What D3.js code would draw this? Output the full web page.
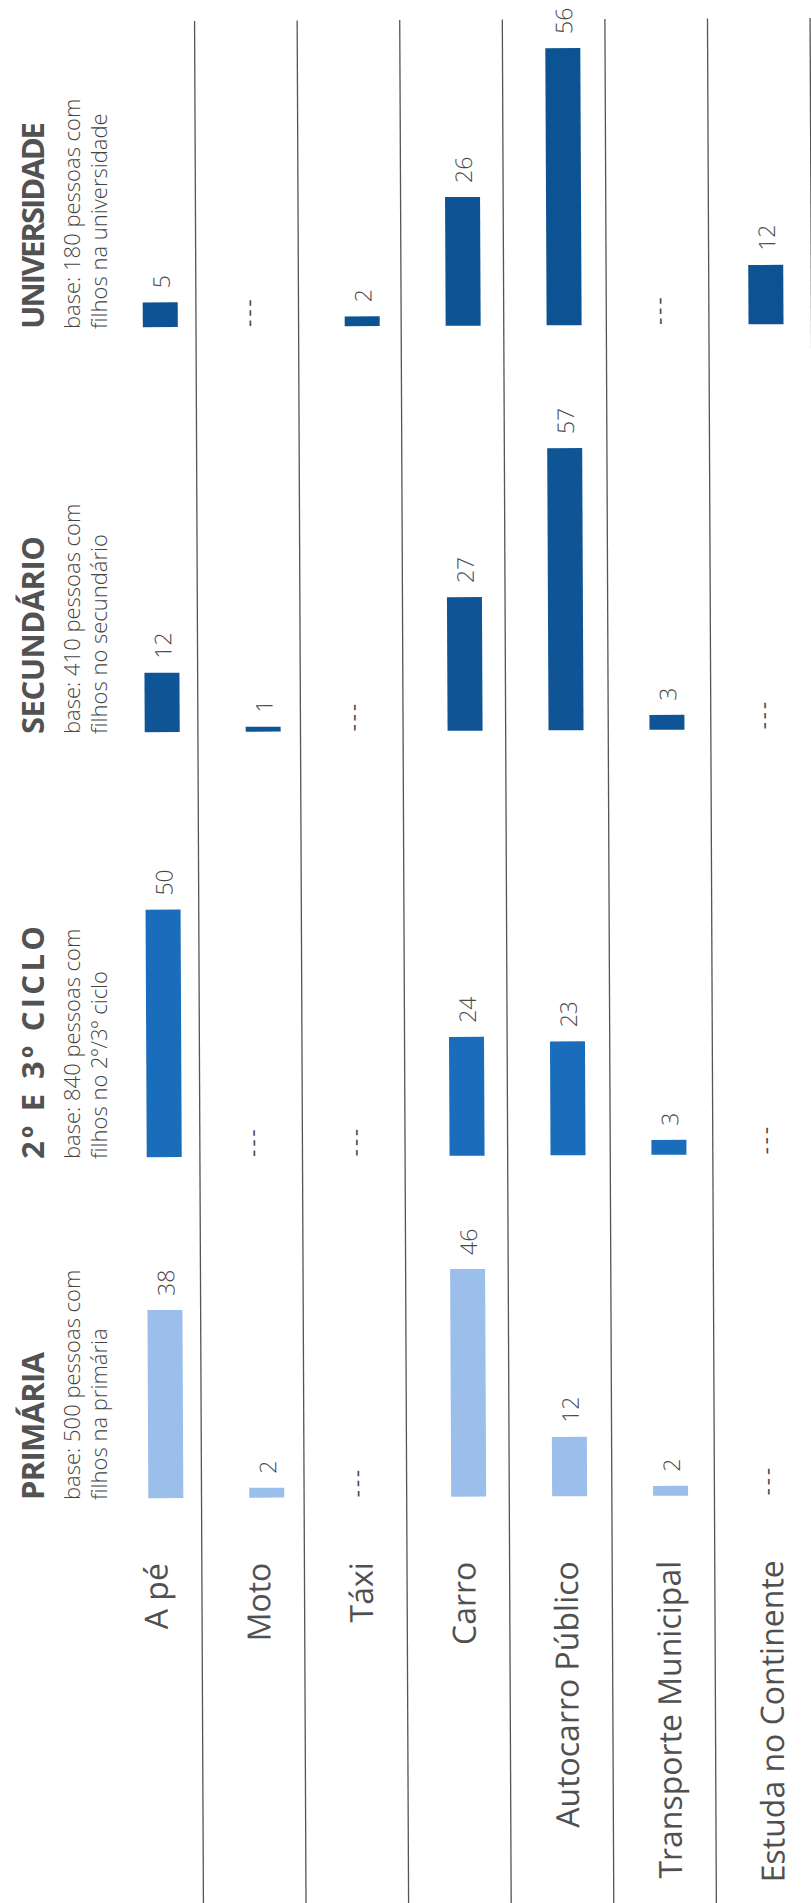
<!DOCTYPE html>
<html><head><meta charset="utf-8">
<script src="https://cdn.jsdelivr.net/npm/d3@7"></script>
<style>body{margin:0;background:#fff}svg{display:block}</style>
</head><body>
<svg id="c" width="811" height="1903"></svg>
<script>
// ---- data ----
const categories = ["A pé","Moto","Táxi","Carro","Autocarro Público","Transporte Municipal","Estuda no Continente"];
const groups = ["PRIMÁRIA","2º E 3º CICLO","SECUNDÁRIO","UNIVERSIDADE"];
const baseLine1 = ["base: 500 pessoas com","base: 840 pessoas com","base: 410 pessoas com","base: 180 pessoas com"];
const baseLine2 = ["filhos na primária","filhos no 2º/3º ciclo","filhos no secundário","filhos na universidade"];
const primaria = [38,2,null,46,12,2,null];
const ciclo = [50,null,null,24,23,3,null];
const secundario = [12,1,null,27,57,3,null];
const universidade = [5,null,2,26,56,null,12];
const series = [primaria, ciclo, secundario, universidade];

// ---- layout ----
const W = 811, H = 1903;
const colors = ["#9bbeea","#1a6dbb","#0f5596","#0d5292"];
const colBase = d3.scaleOrdinal().domain(groups).range([1497,1156,731,326]);
const titleLen = d3.scaleOrdinal().domain(groups).range([148,233,198,207]);
const xBand = d3.scaleBand().domain(categories).range([96.4, 814.5]);
const xBar = d3.scalePoint().domain(categories).range([163.3, 769]);
const hScale = d3.scaleLinear().domain([0,60]).range([0,297]);
const barW = 35;
const FONT = "'Open Sans', 'Noto Sans', sans-serif";
const TXT = "#4a4a4a";

const svg = d3.select("#c");
svg.append("rect").attr("width",W).attr("height",H).attr("fill","#fff");

// headers (not tilted)
const hdr = svg.append("g");
groups.forEach((g,i)=>{
  const y0 = colBase(g) + 3;
  hdr.append("text").attr("transform",`translate(43.5,${y0}) rotate(-90)`)
    .attr("font-family",FONT).attr("font-weight","bold").attr("font-size",31)
    .attr("fill","#525252").attr("textLength",titleLen(g)).attr("lengthAdjust","spacing")
    .text(g);
  hdr.append("text").attr("transform",`translate(80,${y0}) rotate(-90)`)
    .attr("font-family",FONT).attr("font-weight",300).attr("font-size",22).attr("fill","#444").text(baseLine1[i]);
  hdr.append("text").attr("transform",`translate(106.5,${y0}) rotate(-90)`)
    .attr("font-family",FONT).attr("font-weight",300).attr("font-size",22).attr("fill","#444").text(baseLine2[i]);
});

const g = svg.append("g").attr("transform","rotate(-0.27,405,960)");

// separators
g.selectAll("line.sep").data(categories).join("line").attr("class","sep")
  .attr("x1",d=>xBand(d)+xBand.bandwidth()).attr("x2",d=>xBand(d)+xBand.bandwidth())
  .attr("y1",20).attr("y2",H+5).attr("stroke","#555").attr("stroke-width",1.3);

// category labels
g.selectAll("text.cat").data(categories).join("text").attr("class","cat")
  .attr("transform",d=>`translate(${xBand(d)+xBand.bandwidth()/2+17},1562) rotate(-90)`)
  .attr("text-anchor","end").attr("font-family",FONT).attr("font-weight",400).attr("font-size",32)
  .attr("fill","#505050").text(d=>d);

// bars, value labels, dashes
groups.forEach((grp,gi)=>{
  const base = colBase(grp);
  const data = categories.map((c,i)=>({c, v: series[gi][i]}));
  const has = data.filter(d=>d.v!=null);
  const none = data.filter(d=>d.v==null);
  g.selectAll(null).data(has).join("rect")
    .attr("x",d=>xBar(d.c)-barW/2).attr("width",barW)
    .attr("y",d=>base-hScale(d.v)).attr("height",d=>hScale(d.v))
    .attr("fill",colors[gi]);
  g.selectAll(null).data(has).join("text")
    .attr("transform",d=>`translate(${xBar(d.c)+9.5},${base-hScale(d.v)-14}) rotate(-90)`)
    .attr("font-family",FONT).attr("font-weight",300).attr("font-size",23).attr("fill",TXT).text(d=>d.v);
  g.selectAll(null).data(none).join("text")
    .attr("transform",d=>`translate(${xBand(d.c)+xBand.bandwidth()/2+9},${base}) rotate(-90)`)
    .attr("font-family",FONT).attr("font-size",22).attr("letter-spacing",3).attr("fill",TXT).text("---");
});
</script>
</body></html>
